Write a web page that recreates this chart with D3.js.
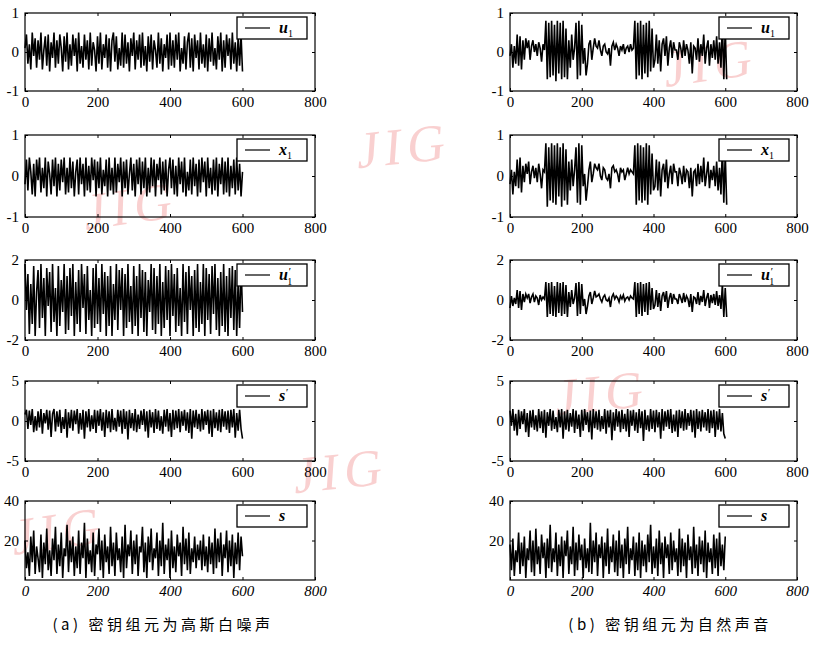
<!DOCTYPE html>
<html lang="zh">
<head>
    <meta charset="UTF-8">
    <title>Key signal plots</title>
    <script src="https://d3js.org/d3.v7.min.js"></script>
    <style>
        body { margin: 0; background: #fff; }
        svg { display: block; }
        .frame { fill: none; stroke: #000; stroke-width: 1.2px; }
        .trace { fill: none; stroke: #000; stroke-width: 1.6px; }
        .tick text { font-family: "Liberation Serif", serif; font-size: 15px; fill: #000; }
        .tick line { stroke: #000; }
        .legend-box { fill: #fff; stroke: #000; stroke-width: 1.3px; }
        .legend-label { font-family: "Liberation Serif", serif; font-weight: bold; font-style: italic; font-size: 16px; }
        .caption { font-family: "Noto Sans CJK SC", sans-serif; font-size: 15px; letter-spacing: 3.5px; }
        .mark { font-family: "Liberation Serif", serif; font-size: 52px; fill: #f07a7a; opacity: 0.35; letter-spacing: 6px; }
    </style>
</head>
<body>
<svg id="chart" width="814" height="646"></svg>
<script>
// x axis ticks shared by every panel
const xTicks = [0, 200, 400, 600, 800];
// one kept sample every 4 points of the 600-point signals
const step = 4;

// (a) key element = gaussian white noise
const gaussU1 = [0.1,0.45,-0.3,0.2,-0.45,0.5,-0.1,0.35,-0.4,0.3,
    -0.2,0.5,-0.45,0.05,0.4,-0.35,0.45,-0.5,0.25,-0.15,
    0.5,-0.4,0.3,-0.3,0.45,0.1,-0.5,0.4,-0.25,0.5,
    -0.45,0.2,-0.35,0.45,-0.1,0.35,-0.5,0.5,-0.3,0.15,
    -0.4,0.45,-0.2,0.3,-0.45,0.5,-0.35,0.25,0.05,-0.5,
    0.4,-0.3,0.5,-0.45,0.2,-0.15,0.45,-0.4,0.35,-0.5,
    0.3,0.5,-0.25,0.4,-0.45,0.1,-0.35,0.5,-0.4,0.45,
    -0.3,0.25,-0.5,0.35,-0.1,0.5,-0.45,0.3,-0.2,0.45,
    -0.4,0.5,-0.35,0.15,-0.5,0.4,-0.25,0.45,-0.45,0.3,
    0.05,-0.4,0.5,-0.3,0.35,-0.5,0.2,-0.15,0.45,-0.45,
    0.5,-0.35,0.3,-0.4,0.45,-0.2,0.5,-0.5,0.1,-0.3,
    0.4,-0.45,0.25,0.5,-0.4,0.35,-0.5,0.45,-0.15,0.3,
    -0.45,0.5,-0.3,0.2,-0.4,0.45,-0.5,0.35,-0.25,0.5,
    -0.35,0.1,-0.45,0.4,-0.2,0.5,-0.5,0.3,-0.4,0.45,
    -0.1,0.35,-0.45,0.5,-0.3,0.25,-0.5,0.4,-0.35,0.45,-0.5];
const gaussX1 = [-0.2,0.4,-0.35,0.45,0.1,-0.45,0.3,-0.5,0.4,-0.1,
    0.45,-0.4,0.2,-0.3,0.45,-0.5,0.35,0.05,-0.45,0.4,
    -0.25,0.45,-0.5,0.3,-0.35,0.4,-0.15,0.45,-0.45,0.2,
    -0.4,0.45,-0.3,0.35,-0.5,0.1,0.4,-0.45,0.45,-0.2,
    0.3,-0.5,0.45,-0.35,0.25,-0.4,0.45,-0.1,0.4,-0.5,
    0.35,-0.3,0.45,-0.45,0.15,-0.25,0.4,-0.5,0.45,-0.35,
    0.2,-0.45,0.45,-0.4,0.3,-0.15,0.45,-0.5,0.35,-0.3,
    0.4,-0.45,0.05,0.45,-0.35,0.3,-0.5,0.4,-0.2,0.45,
    -0.45,0.35,-0.3,0.45,-0.5,0.2,-0.4,0.45,-0.25,0.4,
    -0.5,0.3,-0.1,0.45,-0.45,0.35,-0.35,0.4,-0.5,0.15,
    0.45,-0.3,0.4,-0.45,0.25,-0.5,0.45,-0.2,0.35,-0.4,
    0.45,-0.5,0.1,-0.35,0.4,-0.45,0.45,-0.25,0.3,-0.5,
    0.4,-0.4,0.45,-0.15,0.35,-0.5,0.45,-0.3,0.2,-0.45,
    0.4,-0.35,0.45,-0.5,0.3,-0.2,0.45,-0.45,0.35,-0.4,
    0.45,-0.5,0.25,-0.3,0.4,-0.45,0.45,-0.35,0.3,-0.5,0.1];
const gaussU1p = [1.8,-0.5,1.3,-1.7,0.8,-1.2,1.7,-1.8,0.4,1.5,
    -1.4,1.8,-0.9,1.1,-1.8,1.6,-0.3,1.4,-1.6,1.8,
    -1.1,0.6,-1.8,1.7,-1.3,1.0,-0.6,1.8,-1.7,1.2,
    -1.5,1.6,-0.8,1.8,-1.8,0.9,-1.2,1.5,-1.6,1.8,
    -0.4,1.3,-1.7,1.7,-1.0,0.5,-1.8,1.6,-1.4,1.8,
    -1.2,1.1,-1.6,1.8,-0.7,1.4,-1.8,1.2,-1.3,1.7,
    -1.8,0.8,-1.0,1.8,-1.5,1.5,-0.5,1.6,-1.8,1.3,
    -1.4,1.8,-1.1,0.7,-1.7,1.7,-1.3,1.2,-1.8,1.8,
    -0.9,1.5,-1.6,1.4,-1.8,1.0,-0.6,1.8,-1.5,1.6,
    -1.7,1.2,-1.2,1.8,-1.8,0.9,-1.4,1.7,-1.0,1.5,
    -1.8,1.8,-0.8,1.3,-1.6,1.6,-1.3,0.6,-1.8,1.8,
    -1.1,1.4,-1.7,1.7,-0.5,1.2,-1.8,1.5,-1.4,1.8,
    -1.6,0.9,-1.2,1.8,-1.8,1.6,-1.0,1.3,-1.7,1.7,
    -0.7,1.8,-1.5,1.1,-1.8,1.4,-1.3,1.8,-1.6,1.2,
    -1.8,1.6,-0.9,1.7,-1.5,1.5,-1.8,1.0,-1.4,1.8,-0.6];
const gaussSp = [0.8,1.4,-1.0,1.3,-0.5,1.5,-1.4,0.6,-1.2,1.2,
    -0.8,1.5,-1.6,1.0,-0.3,1.4,-1.1,1.3,-2.0,0.9,
    1.5,-1.3,1.2,-0.7,1.4,-1.5,0.5,-1.0,1.5,-2.1,
    1.1,-0.9,1.4,-1.2,1.3,-0.4,1.5,-1.6,1.0,-1.1,
    1.4,-2.2,1.2,-0.8,1.5,-1.3,0.7,-1.0,1.4,-1.5,
    1.3,-0.6,1.5,-1.2,1.1,-2.0,1.4,-0.9,1.2,-1.4,
    1.5,-1.1,0.4,-1.3,1.4,-0.7,1.3,-1.6,1.5,-1.0,
    1.2,-2.3,1.4,-0.9,1.0,-1.2,1.5,-1.4,0.8,-1.0,
    1.3,-0.5,1.5,-1.3,1.2,-2.1,1.4,-0.8,1.1,-1.5,
    1.5,-1.0,1.3,-1.2,0.6,-1.6,1.4,-0.7,1.5,-1.3,
    1.0,-2.0,1.4,-1.1,1.3,-0.9,1.5,-1.4,1.2,-0.6,
    1.4,-1.2,1.1,-1.5,1.5,-2.2,1.3,-0.8,1.4,-1.0,
    0.9,-1.3,1.5,-1.1,1.2,-0.5,1.4,-1.6,1.3,-2.0,
    1.5,-0.9,1.1,-1.2,1.4,-1.4,1.5,-0.7,1.2,-1.1,
    1.3,-1.5,1.4,-0.8,1.5,-2.1,1.0,-1.2,1.4,-1.0,-2.2];
const gaussS = [20,6,14,2,22,9,25,3,17,11,
    4,23,1,19,8,26,5,15,2,21,
    10,27,3,18,7,24,1,16,12,28,
    4,20,9,22,2,17,6,25,3,19,
    11,29,1,21,8,15,4,24,2,18,
    13,26,5,20,1,23,9,17,3,27,
    7,19,2,24,10,16,4,22,1,28,
    6,18,12,25,3,20,8,23,2,17,
    14,27,4,19,1,22,9,26,5,16,
    11,24,2,20,7,29,3,18,10,21,
    1,25,6,17,4,23,12,19,2,27,
    8,21,5,24,3,16,9,22,6,18,
    10,20,5,23,7,17,4,22,8,19,
    3,26,6,21,9,24,2,18,11,25,
    4,20,7,23,1,19,8,24,5,22,12];

// (b) key element = natural sound
const voiceU1 = [-0.1,0.2,-0.4,0.15,-0.3,
    0.45,-0.35,0.4,-0.45,0.3,-0.2,
    0.35,0.1,0.3,-0.2,0.15,
    0.3,0.0,0.2,-0.1,0.25,0.1,-0.25,0.2,0.05,
    0.8,-0.7,0.75,-0.65,0.8,-0.6,0.7,-0.75,0.8,-0.55,0.75,-0.7,0.8,-0.65,0.6,-0.7,
    0.3,-0.4,0.45,-0.2,0.1,
    0.75,-0.7,0.8,-0.6,0.7,-0.3,
    0.1,-0.6,-0.3,0.2,0.3,-0.2,0.1,0.35,0.15,
    0.1,0.3,0.05,-0.1,0.15,0.2,0.0,-0.05,0.1,-0.35,0.15,0.25,0.05,0.2,0.1,-0.1,0.15,0.05,0.2,-0.05,0.1,0.15,0.0,0.2,0.05,0.1,
    0.8,-0.7,0.75,-0.6,0.8,-0.7,0.7,-0.55,0.75,-0.65,0.8,-0.5,0.6,-0.4,
    -0.2,0.45,-0.3,0.3,-0.5,0.2,0.35,-0.1,0.4,-0.35,0.1,0.3,-0.15,0.25,0.05,
    0.05,-0.2,0.25,0.1,-0.15,0.3,-0.1,0.2,0.05,-0.3,0.25,-0.55,0.15,0.1,-0.2,0.35,-0.25,0.2,-0.1,0.45,-0.3,0.1,0.3,-0.35,0.2,-0.15,0.3,-0.2,0.4,-0.3,0.25,-0.4,
    0.75,-0.7,0.6,-0.7];
const voiceX1 = [-0.2,0.15,-0.45,0.1,-0.25,
    0.4,-0.3,0.45,-0.4,0.25,-0.15,
    0.3,0.05,0.35,-0.2,0.1,
    0.25,-0.05,0.2,-0.15,0.3,0.05,-0.3,0.15,0.1,
    0.8,-0.75,0.7,-0.6,0.8,-0.65,0.75,-0.7,0.8,-0.5,0.7,-0.75,0.8,-0.6,0.65,-0.7,
    0.35,-0.35,0.4,-0.25,0.15,
    0.7,-0.65,0.8,-0.7,0.75,-0.25,
    0.05,-0.6,-0.25,0.15,0.35,-0.15,0.05,0.3,0.2,
    0.15,0.3,0.0,-0.1,0.2,0.15,-0.05,-0.1,0.05,-0.3,0.2,0.25,0.1,0.15,0.05,-0.15,0.2,0.1,0.15,-0.1,0.05,0.2,0.05,0.15,0.1,0.05,
    0.75,-0.7,0.8,-0.6,0.75,-0.65,0.7,-0.6,0.8,-0.7,0.75,-0.45,0.55,-0.35,
    -0.25,0.4,-0.35,0.35,-0.5,0.15,0.3,-0.15,0.4,-0.3,0.05,0.25,-0.2,0.3,0.1,
    0.1,-0.25,0.2,0.05,-0.2,0.25,-0.15,0.15,0.1,-0.3,0.2,-0.5,0.1,0.15,-0.25,0.3,-0.2,0.25,-0.15,0.45,-0.25,0.05,0.35,-0.3,0.15,-0.1,0.25,-0.25,0.35,-0.35,0.2,-0.45,
    0.7,-0.65,0.55,-0.7];
const voiceU1p = [-0.4,0.2,-0.3,0.1,-0.2,
    0.5,-0.4,0.45,-0.5,0.3,-0.1,
    0.3,0.1,0.3,-0.15,0.15,
    0.3,-0.1,0.2,0.1,-0.25,0.25,0.0,0.15,0.05,
    0.9,-0.85,0.85,-0.7,0.9,-0.8,0.7,-0.85,0.9,-0.65,0.85,-0.8,0.9,-0.7,0.75,-0.85,
    0.4,-0.35,0.5,-0.2,0.1,
    0.85,-0.8,0.9,-0.7,0.8,-0.3,
    0.05,-0.7,-0.3,0.2,0.4,-0.2,0.1,0.45,0.15,
    0.2,0.3,0.05,-0.1,0.15,0.25,0.0,-0.05,0.1,-0.35,0.15,0.3,0.05,0.2,0.1,-0.1,0.2,0.05,0.25,-0.05,0.1,0.15,0.0,0.2,0.1,0.05,
    0.9,-0.85,0.85,-0.7,0.9,-0.8,0.8,-0.6,0.85,-0.75,0.9,-0.5,0.6,-0.45,
    -0.25,0.5,-0.35,0.35,-0.55,0.2,0.4,-0.1,0.45,-0.4,0.1,0.35,-0.2,0.3,0.05,
    0.05,-0.2,0.3,0.1,-0.15,0.35,-0.1,0.2,0.05,-0.35,0.3,-0.6,0.15,0.1,-0.2,0.4,-0.25,0.2,-0.1,0.5,-0.3,0.1,0.35,-0.4,0.25,-0.15,0.3,-0.25,0.45,-0.3,0.25,-0.45,
    0.8,-0.85,0.6,-0.85];
const voiceSp = [1.3,-0.6,1.5,-1.2,0.9,-1.8,1.4,-1.0,1.2,-0.4,
    1.5,-1.4,1.0,-2.0,1.3,-0.8,1.4,-1.1,0.7,-1.3,
    1.5,-0.9,1.2,-1.5,1.4,-2.1,1.1,-0.6,1.5,-1.2,
    1.3,-1.0,0.5,-1.4,1.4,-0.8,1.5,-2.2,1.2,-1.1,
    1.4,-1.3,1.0,-0.7,1.5,-1.5,1.3,-1.0,0.8,-2.0,
    1.4,-1.2,1.5,-0.5,1.1,-1.4,1.3,-2.3,1.5,-0.9,
    1.2,-1.1,1.4,-1.3,0.6,-1.0,1.5,-1.6,1.3,-0.8,
    1.4,-2.4,1.1,-1.2,1.5,-0.7,1.2,-1.4,1.4,-1.0,
    0.9,-1.3,1.5,-2.0,1.3,-0.6,1.4,-1.2,1.1,-1.5,
    1.5,-0.9,1.2,-2.5,1.4,-1.1,0.7,-1.3,1.5,-1.0,
    1.3,-1.4,1.4,-0.8,1.1,-2.2,1.5,-1.2,1.2,-0.7,
    1.4,-1.0,1.5,-1.5,0.8,-1.3,1.3,-2.0,1.4,-0.9,
    1.2,-1.2,1.5,-1.1,1.0,-0.6,1.4,-1.4,1.3,-2.1,
    1.5,-1.0,1.2,-1.3,1.4,-0.8,1.1,-1.2,1.5,-1.5,
    1.3,-0.9,1.4,-2.0,1.2,-1.1,1.5,-1.3,1.0,-1.6,-2.2];
const voiceS = [18,5,21,2,15,9,24,3,19,7,
    22,1,16,10,25,4,20,2,26,8,
    17,3,23,11,19,1,21,6,28,4,
    16,9,24,2,18,7,22,1,20,12,
    25,3,17,8,27,2,19,5,23,10,
    18,1,21,6,16,4,29,3,20,9,
    24,2,18,11,22,1,19,7,26,3,
    17,9,23,4,20,2,25,6,18,1,
    21,8,27,3,16,10,22,2,19,5,
    24,1,20,7,18,4,23,9,28,3,
    17,6,21,2,25,8,19,1,22,11,
    18,3,24,5,20,9,16,2,26,4,
    21,7,19,1,23,10,17,3,27,6,
    18,2,22,8,20,4,25,1,19,9,
    16,3,23,6,21,2,24,7,18,5,22];

// row definitions: y domain, y tick labels, legend symbol
const rowDomains = [[-1, 1], [-1, 1], [-2, 2], [-5, 5], [0, 40]];
const rowTicks = [[-1, 0, 1], [-1, 0, 1], [-2, 0, 2], [-5, 0, 5], [20, 40]];
const rowNames = ["u1", "x1", "u1'", "s'", "s"];
const captions = ["(a) 密钥组元为高斯白噪声", "(b) 密钥组元为自然声音"];

const series = [
    [gaussU1, gaussX1, gaussU1p, gaussSp, gaussS],
    [voiceU1, voiceX1, voiceU1p, voiceSp, voiceS]
];

// layout
const colLeft = [25, 510], colRight = [315, 797];
const rowTop = [13, 135, 260, 381, 501], rowBottom = [91, 217, 340, 461, 580];

const svg = d3.select("#chart");

// faint journal watermarks
const marks = [[712, 62, -8], [405, 145, -6], [132, 205, -8], [342, 470, -6], [60, 530, -8], [603, 392, -6]];
svg.append("g").selectAll("text").data(marks).join("text")
    .attr("class", "mark")
    .attr("text-anchor", "middle")
    .attr("transform", d => `translate(${d[0]},${d[1]}) rotate(${d[2]}) skewX(-10)`)
    .attr("dy", "0.35em")
    .text("JIG");

function legendLabel(text, name) {
    if (name === "u1" || name === "x1") {
        text.append("tspan").text(name[0]);
        text.append("tspan").attr("dy", 4).attr("font-size", 10).attr("font-weight", "normal").attr("font-style", "normal").text("1");
    } else if (name === "u1'") {
        text.append("tspan").text("u");
        text.append("tspan").attr("dy", -5).attr("font-size", 11).attr("font-weight", "normal").text("′");
        text.append("tspan").attr("dx", -3).attr("dy", 10).attr("font-size", 10).attr("font-weight", "normal").attr("font-style", "normal").text("1");
    } else if (name === "s'") {
        text.append("tspan").text("s");
        text.append("tspan").attr("dy", -5).attr("font-size", 11).attr("font-weight", "normal").text("′");
    } else {
        text.text(name);
    }
}

for (let c = 0; c < 2; c++) {
    for (let r = 0; r < 5; r++) {
        const x = d3.scaleLinear().domain([0, 800]).range([colLeft[c], colRight[c]]);
        const y = d3.scaleLinear().domain(rowDomains[r]).range([rowBottom[r], rowTop[r]]);
        const g = svg.append("g");
        const vals = series[c][r];

        const line = d3.line().x((d, i) => x(i * step)).y(d => y(d));
        g.append("path").datum(vals).attr("class", "trace").attr("d", line);

        g.append("rect").attr("class", "frame")
            .attr("x", colLeft[c]).attr("y", rowTop[r])
            .attr("width", colRight[c] - colLeft[c]).attr("height", rowBottom[r] - rowTop[r]);

        const fmt = d => String(d);
        const bottom = g.append("g").attr("transform", `translate(0,${rowBottom[r]})`)
            .call(d3.axisBottom(x).tickValues(xTicks).tickFormat(fmt).tickSize(-3).tickPadding(5));
        g.append("g").attr("transform", `translate(${colLeft[c]},0)`)
            .call(d3.axisLeft(y).tickValues(rowTicks[r]).tickFormat(fmt).tickSize(-3).tickPadding(6));
        g.append("g").attr("transform", `translate(0,${rowTop[r]})`)
            .call(d3.axisTop(x).tickValues(xTicks).tickSize(-3).tickFormat(""));
        g.append("g").attr("transform", `translate(${colRight[c]},0)`)
            .call(d3.axisRight(y).tickValues(rowTicks[r]).tickSize(-3).tickFormat(""));
        g.selectAll(".domain").remove();
        g.selectAll("g > g").attr("font-family", null).attr("font-size", null);
        if (r === 4) bottom.selectAll("text").attr("font-style", "italic");

        // legend box in the upper right corner
        const lx = colRight[c] - 78, ly = rowTop[r] + 4;
        g.append("rect").attr("class", "legend-box")
            .attr("x", lx).attr("y", ly).attr("width", 70).attr("height", 22);
        g.append("line").attr("x1", lx + 8).attr("x2", lx + 33)
            .attr("y1", ly + 11).attr("y2", ly + 11).attr("stroke", "#000").attr("stroke-width", 1.2);
        const t = g.append("text").attr("class", "legend-label")
            .attr("x", lx + 42).attr("y", ly + 16);
        legendLabel(t, rowNames[r]);
    }
}

svg.selectAll(".cap").data(captions).join("text")
    .attr("class", "caption")
    .attr("x", (d, i) => i === 0 ? 163 : 670)
    .attr("y", 630)
    .attr("text-anchor", "middle")
    .text(d => d);
</script>
</body>
</html>
